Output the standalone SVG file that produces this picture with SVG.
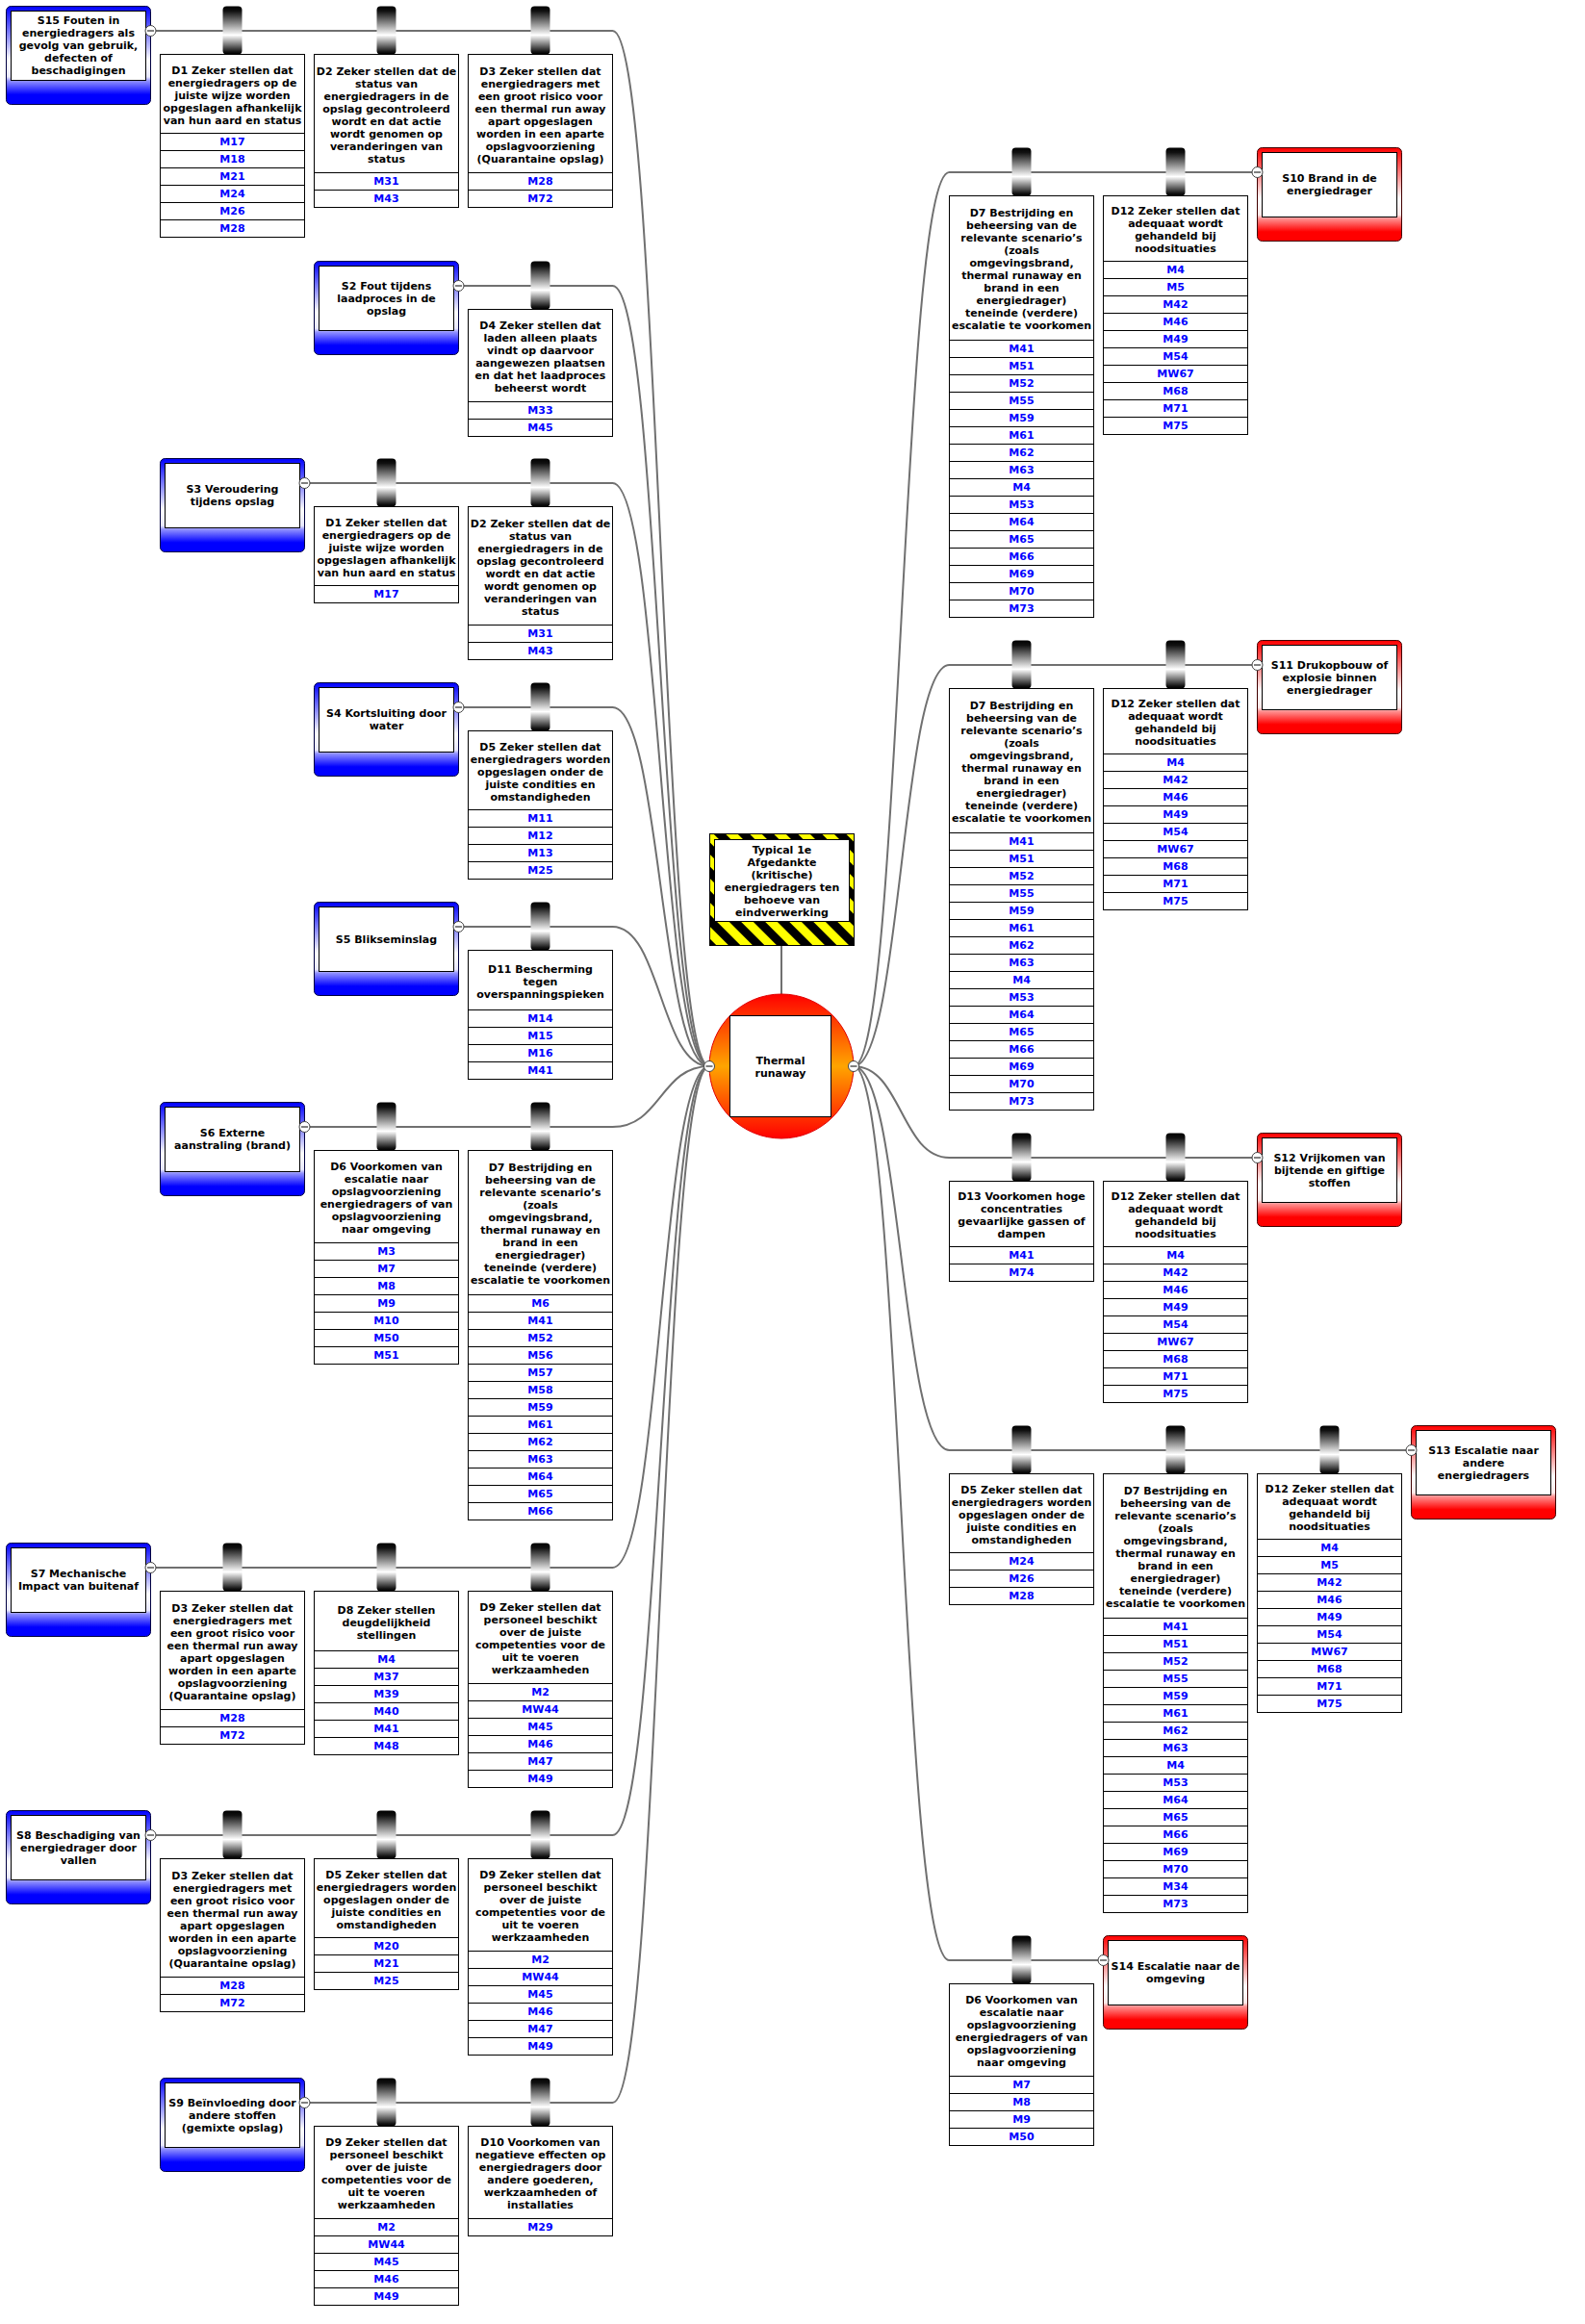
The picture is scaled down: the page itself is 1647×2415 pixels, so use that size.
<svg xmlns="http://www.w3.org/2000/svg" width="1647" height="2415" viewBox="0 0 1647 2415">
<style>
.t{font-family:"DejaVu Sans",Verdana,sans-serif;font-size:11px;font-weight:bold;fill:#000;text-anchor:middle}
.m{font-family:"DejaVu Sans",Verdana,sans-serif;font-size:11px;font-weight:bold;fill:#0000ff;text-anchor:middle}
.box{fill:#fff;stroke:#000;stroke-width:1}
.sep{fill:none;stroke:#000;stroke-width:1}
.sb{fill:url(#gB);stroke:#000040;stroke-width:1}
.sr{fill:url(#gR);stroke:#400000;stroke-width:1}
.in{fill:#fff;stroke:#000;stroke-width:1}
.con{fill:none;stroke:#707070;stroke-width:2}
</style>
<defs>
<linearGradient id="gB" x1="0" y1="0" x2="0" y2="1">
<stop offset="0" stop-color="#0000ff"/><stop offset="0.55" stop-color="#ffffff"/><stop offset="0.72" stop-color="#e8e8ff"/><stop offset="0.76" stop-color="#9090ff"/><stop offset="0.9" stop-color="#0000ff"/><stop offset="1" stop-color="#0000ff"/>
</linearGradient>
<linearGradient id="gR" x1="0" y1="0" x2="0" y2="1">
<stop offset="0" stop-color="#ff0000"/><stop offset="0.55" stop-color="#ffffff"/><stop offset="0.72" stop-color="#ffe8e8"/><stop offset="0.76" stop-color="#ff9090"/><stop offset="0.9" stop-color="#ff0000"/><stop offset="1" stop-color="#ff0000"/>
</linearGradient>
<linearGradient id="gC" x1="0" y1="0" x2="0" y2="1">
<stop offset="0" stop-color="#000"/><stop offset="0.1" stop-color="#111"/><stop offset="0.6" stop-color="#fff"/><stop offset="0.95" stop-color="#111"/><stop offset="1" stop-color="#000"/>
</linearGradient>
<linearGradient id="gF" x1="0" y1="0" x2="0" y2="1">
<stop offset="0" stop-color="#ff0000"/><stop offset="0.5" stop-color="#ffa500"/><stop offset="1" stop-color="#ff0000"/>
</linearGradient>
<pattern id="hz" patternUnits="userSpaceOnUse" width="17.7" height="17.7" patternTransform="rotate(-45)">
<rect width="17.7" height="17.7" fill="#ffff00"/><rect width="8.85" height="17.7" fill="#000"/>
</pattern>
<rect id="clip" x="-10" y="0" width="20" height="50" rx="4" fill="url(#gC)"/>
<g id="knob"><circle r="5.5" fill="#fff" stroke="#444" stroke-width="1"/><path d="M-3.5 0H3.5" stroke="#000" stroke-width="1"/></g>
</defs>
<rect width="1647" height="2415" fill="#fff"/>

<g id="connectors">
<path class="con" d="M156.5 32H636.5C686.5 32 686.5 1108 737 1108"/>
<path class="con" d="M476.5 297H636.5C686.5 297 686.5 1108 737 1108"/>
<path class="con" d="M316.5 502H636.5C686.5 502 686.5 1108 737 1108"/>
<path class="con" d="M476.5 735H636.5C686.5 735 686.5 1108 737 1108"/>
<path class="con" d="M476.5 963H636.5C686.5 963 686.5 1108 737 1108"/>
<path class="con" d="M316.5 1171H636.5C686.5 1171 686.5 1108 737 1108"/>
<path class="con" d="M156.5 1629H636.5C686.5 1629 686.5 1108 737 1108"/>
<path class="con" d="M156.5 1907H636.5C686.5 1907 686.5 1108 737 1108"/>
<path class="con" d="M316.5 2185H636.5C686.5 2185 686.5 1108 737 1108"/>
<path class="con" d="M1306.5 179H986.5C936.5 179 936.5 1108 887 1108"/>
<path class="con" d="M1306.5 691H986.5C936.5 691 936.5 1108 887 1108"/>
<path class="con" d="M1306.5 1203H986.5C936.5 1203 936.5 1108 887 1108"/>
<path class="con" d="M1466.5 1507H986.5C936.5 1507 936.5 1108 887 1108"/>
<path class="con" d="M1146.5 2037H986.5C936.5 2037 936.5 1108 887 1108"/>
<path class="con" d="M812 982V1033"/>
</g>

<g id="hazard">
<rect x="737.5" y="866.5" width="150" height="116" fill="url(#hz)" stroke="#000"/>
<rect class="in" x="742.5" y="872.5" width="140" height="85"/>
<text class="t" x="812.5" y="886.5">Typical 1e</text>
<text class="t" x="812.5" y="899.5">Afgedankte</text>
<text class="t" x="812.5" y="912.5">(kritische)</text>
<text class="t" x="812.5" y="925.5">energiedragers ten</text>
<text class="t" x="812.5" y="938.5">behoeve van</text>
<text class="t" x="812.5" y="951.5">eindverwerking</text>
</g>

<g id="top-event">
<circle cx="812" cy="1108" r="75" fill="url(#gF)" stroke="#e00000"/>
<rect class="in" x="758.5" y="1055.5" width="105" height="105"/>
<text class="t" x="811" y="1105.5">Thermal</text>
<text class="t" x="811" y="1118.5">runaway</text>
<use href="#knob" x="737" y="1108"/>
<use href="#knob" x="887" y="1108"/>
</g>

<!-- LEFT: S15 row -->
<g id="s15" transform="translate(6.5,6.5)">
<rect class="sb" width="150" height="102" rx="5"/>
<rect class="in" x="5" y="5" width="140" height="72"/>
<text class="t" x="75" y="18.5">S15 Fouten in</text>
<text class="t" x="75" y="31.5">energiedragers als</text>
<text class="t" x="75" y="44.5">gevolg van gebruik,</text>
<text class="t" x="75" y="57.5">defecten of</text>
<text class="t" x="75" y="70.5">beschadigingen</text>
<use href="#knob" x="150" y="25.5"/>
</g>
<g id="s15-d1" transform="translate(166.5,56.5)">
<use href="#clip" x="75" y="-50"/>
<rect class="box" width="150" height="190"/>
<path class="sep" d="M0 82H150M0 100H150M0 118H150M0 136H150M0 154H150M0 172H150"/>
<text class="t" x="75" y="20">D1 Zeker stellen dat</text>
<text class="t" x="75" y="33">energiedragers op de</text>
<text class="t" x="75" y="46">juiste wijze worden</text>
<text class="t" x="75" y="59">opgeslagen afhankelijk</text>
<text class="t" x="75" y="72">van hun aard en status</text>
<text class="m" x="75" y="94">M17</text>
<text class="m" x="75" y="112">M18</text>
<text class="m" x="75" y="130">M21</text>
<text class="m" x="75" y="148">M24</text>
<text class="m" x="75" y="166">M26</text>
<text class="m" x="75" y="184">M28</text>
</g>
<g id="s15-d2" transform="translate(326.5,56.5)">
<use href="#clip" x="75" y="-50"/>
<rect class="box" width="150" height="159"/>
<path class="sep" d="M0 123H150M0 141H150"/>
<text class="t" x="75" y="21">D2 Zeker stellen dat de</text>
<text class="t" x="75" y="34">status van</text>
<text class="t" x="75" y="47">energiedragers in de</text>
<text class="t" x="75" y="60">opslag gecontroleerd</text>
<text class="t" x="75" y="73">wordt en dat actie</text>
<text class="t" x="75" y="86">wordt genomen op</text>
<text class="t" x="75" y="99">veranderingen van</text>
<text class="t" x="75" y="112">status</text>
<text class="m" x="75" y="135">M31</text>
<text class="m" x="75" y="153">M43</text>
</g>
<g id="s15-d3" transform="translate(486.5,56.5)">
<use href="#clip" x="75" y="-50"/>
<rect class="box" width="150" height="159"/>
<path class="sep" d="M0 123H150M0 141H150"/>
<text class="t" x="75" y="21">D3 Zeker stellen dat</text>
<text class="t" x="75" y="34">energiedragers met</text>
<text class="t" x="75" y="47">een groot risico voor</text>
<text class="t" x="75" y="60">een thermal run away</text>
<text class="t" x="75" y="73">apart opgeslagen</text>
<text class="t" x="75" y="86">worden in een aparte</text>
<text class="t" x="75" y="99">opslagvoorziening</text>
<text class="t" x="75" y="112">(Quarantaine opslag)</text>
<text class="m" x="75" y="135">M28</text>
<text class="m" x="75" y="153">M72</text>
</g>

<!-- S2 row -->
<g id="s2" transform="translate(326.5,271.5)">
<rect class="sb" width="150" height="97" rx="5"/>
<rect class="in" x="5" y="5" width="140" height="67"/>
<text class="t" x="75" y="29">S2 Fout tijdens</text>
<text class="t" x="75" y="42">laadproces in de</text>
<text class="t" x="75" y="55">opslag</text>
<use href="#knob" x="150" y="25.5"/>
</g>
<g id="s2-d4" transform="translate(486.5,321.5)">
<use href="#clip" x="75" y="-50"/>
<rect class="box" width="150" height="132"/>
<path class="sep" d="M0 96H150M0 114H150"/>
<text class="t" x="75" y="20.5">D4 Zeker stellen dat</text>
<text class="t" x="75" y="33.5">laden alleen plaats</text>
<text class="t" x="75" y="46.5">vindt op daarvoor</text>
<text class="t" x="75" y="59.5">aangewezen plaatsen</text>
<text class="t" x="75" y="72.5">en dat het laadproces</text>
<text class="t" x="75" y="85.5">beheerst wordt</text>
<text class="m" x="75" y="108">M33</text>
<text class="m" x="75" y="126">M45</text>
</g>

<!-- S3 row -->
<g id="s3" transform="translate(166.5,476.5)">
<rect class="sb" width="150" height="97" rx="5"/>
<rect class="in" x="5" y="5" width="140" height="67"/>
<text class="t" x="75" y="35.5">S3 Veroudering</text>
<text class="t" x="75" y="48.5">tijdens opslag</text>
<use href="#knob" x="150" y="25.5"/>
</g>
<g id="s3-d1" transform="translate(326.5,526.5)">
<use href="#clip" x="75" y="-50"/>
<rect class="box" width="150" height="100"/>
<path class="sep" d="M0 82H150"/>
<text class="t" x="75" y="20">D1 Zeker stellen dat</text>
<text class="t" x="75" y="33">energiedragers op de</text>
<text class="t" x="75" y="46">juiste wijze worden</text>
<text class="t" x="75" y="59">opgeslagen afhankelijk</text>
<text class="t" x="75" y="72">van hun aard en status</text>
<text class="m" x="75" y="94">M17</text>
</g>
<g id="s3-d2" transform="translate(486.5,526.5)">
<use href="#clip" x="75" y="-50"/>
<rect class="box" width="150" height="159"/>
<path class="sep" d="M0 123H150M0 141H150"/>
<text class="t" x="75" y="21">D2 Zeker stellen dat de</text>
<text class="t" x="75" y="34">status van</text>
<text class="t" x="75" y="47">energiedragers in de</text>
<text class="t" x="75" y="60">opslag gecontroleerd</text>
<text class="t" x="75" y="73">wordt en dat actie</text>
<text class="t" x="75" y="86">wordt genomen op</text>
<text class="t" x="75" y="99">veranderingen van</text>
<text class="t" x="75" y="112">status</text>
<text class="m" x="75" y="135">M31</text>
<text class="m" x="75" y="153">M43</text>
</g>

<!-- S4 row -->
<g id="s4" transform="translate(326.5,709.5)">
<rect class="sb" width="150" height="97" rx="5"/>
<rect class="in" x="5" y="5" width="140" height="67"/>
<text class="t" x="75" y="35.5">S4 Kortsluiting door</text>
<text class="t" x="75" y="48.5">water</text>
<use href="#knob" x="150" y="25.5"/>
</g>
<g id="s4-d5" transform="translate(486.5,759.5)">
<use href="#clip" x="75" y="-50"/>
<rect class="box" width="150" height="154"/>
<path class="sep" d="M0 82H150M0 100H150M0 118H150M0 136H150"/>
<text class="t" x="75" y="20">D5 Zeker stellen dat</text>
<text class="t" x="75" y="33">energiedragers worden</text>
<text class="t" x="75" y="46">opgeslagen onder de</text>
<text class="t" x="75" y="59">juiste condities en</text>
<text class="t" x="75" y="72">omstandigheden</text>
<text class="m" x="75" y="94">M11</text>
<text class="m" x="75" y="112">M12</text>
<text class="m" x="75" y="130">M13</text>
<text class="m" x="75" y="148">M25</text>
</g>

<!-- S5 row -->
<g id="s5" transform="translate(326.5,937.5)">
<rect class="sb" width="150" height="97" rx="5"/>
<rect class="in" x="5" y="5" width="140" height="67"/>
<text class="t" x="75" y="42">S5 Blikseminslag</text>
<use href="#knob" x="150" y="25.5"/>
</g>
<g id="s5-d11" transform="translate(486.5,987.5)">
<use href="#clip" x="75" y="-50"/>
<rect class="box" width="150" height="134"/>
<path class="sep" d="M0 62H150M0 80H150M0 98H150M0 116H150"/>
<text class="t" x="75" y="23">D11 Bescherming</text>
<text class="t" x="75" y="36">tegen</text>
<text class="t" x="75" y="49">overspanningspieken</text>
<text class="m" x="75" y="74">M14</text>
<text class="m" x="75" y="92">M15</text>
<text class="m" x="75" y="110">M16</text>
<text class="m" x="75" y="128">M41</text>
</g>

<!-- S6 row -->
<g id="s6" transform="translate(166.5,1145.5)">
<rect class="sb" width="150" height="97" rx="5"/>
<rect class="in" x="5" y="5" width="140" height="67"/>
<text class="t" x="75" y="35.5">S6 Externe</text>
<text class="t" x="75" y="48.5">aanstraling (brand)</text>
<use href="#knob" x="150" y="25.5"/>
</g>
<g id="s6-d6" transform="translate(326.5,1195.5)">
<use href="#clip" x="75" y="-50"/>
<rect class="box" width="150" height="222"/>
<path class="sep" d="M0 96H150M0 114H150M0 132H150M0 150H150M0 168H150M0 186H150M0 204H150"/>
<text class="t" x="75" y="20.5">D6 Voorkomen van</text>
<text class="t" x="75" y="33.5">escalatie naar</text>
<text class="t" x="75" y="46.5">opslagvoorziening</text>
<text class="t" x="75" y="59.5">energiedragers of van</text>
<text class="t" x="75" y="72.5">opslagvoorziening</text>
<text class="t" x="75" y="85.5">naar omgeving</text>
<text class="m" x="75" y="108">M3</text>
<text class="m" x="75" y="126">M7</text>
<text class="m" x="75" y="144">M8</text>
<text class="m" x="75" y="162">M9</text>
<text class="m" x="75" y="180">M10</text>
<text class="m" x="75" y="198">M50</text>
<text class="m" x="75" y="216">M51</text>
</g>
<g id="s6-d7" transform="translate(486.5,1195.5)">
<use href="#clip" x="75" y="-50"/>
<rect class="box" width="150" height="384"/>
<path class="sep" d="M0 150H150M0 168H150M0 186H150M0 204H150M0 222H150M0 240H150M0 258H150M0 276H150M0 294H150M0 312H150M0 330H150M0 348H150M0 366H150"/>
<text class="t" x="75" y="21.5">D7 Bestrijding en</text>
<text class="t" x="75" y="34.5">beheersing van de</text>
<text class="t" x="75" y="47.5">relevante scenario’s</text>
<text class="t" x="75" y="60.5">(zoals</text>
<text class="t" x="75" y="73.5">omgevingsbrand,</text>
<text class="t" x="75" y="86.5">thermal runaway en</text>
<text class="t" x="75" y="99.5">brand in een</text>
<text class="t" x="75" y="112.5">energiedrager)</text>
<text class="t" x="75" y="125.5">teneinde (verdere)</text>
<text class="t" x="75" y="138.5">escalatie te voorkomen</text>
<text class="m" x="75" y="162">M6</text>
<text class="m" x="75" y="180">M41</text>
<text class="m" x="75" y="198">M52</text>
<text class="m" x="75" y="216">M56</text>
<text class="m" x="75" y="234">M57</text>
<text class="m" x="75" y="252">M58</text>
<text class="m" x="75" y="270">M59</text>
<text class="m" x="75" y="288">M61</text>
<text class="m" x="75" y="306">M62</text>
<text class="m" x="75" y="324">M63</text>
<text class="m" x="75" y="342">M64</text>
<text class="m" x="75" y="360">M65</text>
<text class="m" x="75" y="378">M66</text>
</g>

<!-- S7 row -->
<g id="s7" transform="translate(6.5,1603.5)">
<rect class="sb" width="150" height="97" rx="5"/>
<rect class="in" x="5" y="5" width="140" height="67"/>
<text class="t" x="75" y="35.5">S7 Mechanische</text>
<text class="t" x="75" y="48.5">Impact van buitenaf</text>
<use href="#knob" x="150" y="25.5"/>
</g>
<g id="s7-d3" transform="translate(166.5,1653.5)">
<use href="#clip" x="75" y="-50"/>
<rect class="box" width="150" height="159"/>
<path class="sep" d="M0 123H150M0 141H150"/>
<text class="t" x="75" y="21">D3 Zeker stellen dat</text>
<text class="t" x="75" y="34">energiedragers met</text>
<text class="t" x="75" y="47">een groot risico voor</text>
<text class="t" x="75" y="60">een thermal run away</text>
<text class="t" x="75" y="73">apart opgeslagen</text>
<text class="t" x="75" y="86">worden in een aparte</text>
<text class="t" x="75" y="99">opslagvoorziening</text>
<text class="t" x="75" y="112">(Quarantaine opslag)</text>
<text class="m" x="75" y="135">M28</text>
<text class="m" x="75" y="153">M72</text>
</g>
<g id="s7-d8" transform="translate(326.5,1653.5)">
<use href="#clip" x="75" y="-50"/>
<rect class="box" width="150" height="170"/>
<path class="sep" d="M0 62H150M0 80H150M0 98H150M0 116H150M0 134H150M0 152H150"/>
<text class="t" x="75" y="23">D8 Zeker stellen</text>
<text class="t" x="75" y="36">deugdelijkheid</text>
<text class="t" x="75" y="49">stellingen</text>
<text class="m" x="75" y="74">M4</text>
<text class="m" x="75" y="92">M37</text>
<text class="m" x="75" y="110">M39</text>
<text class="m" x="75" y="128">M40</text>
<text class="m" x="75" y="146">M41</text>
<text class="m" x="75" y="164">M48</text>
</g>
<g id="s7-d9" transform="translate(486.5,1653.5)">
<use href="#clip" x="75" y="-50"/>
<rect class="box" width="150" height="204"/>
<path class="sep" d="M0 96H150M0 114H150M0 132H150M0 150H150M0 168H150M0 186H150"/>
<text class="t" x="75" y="20.5">D9 Zeker stellen dat</text>
<text class="t" x="75" y="33.5">personeel beschikt</text>
<text class="t" x="75" y="46.5">over de juiste</text>
<text class="t" x="75" y="59.5">competenties voor de</text>
<text class="t" x="75" y="72.5">uit te voeren</text>
<text class="t" x="75" y="85.5">werkzaamheden</text>
<text class="m" x="75" y="108">M2</text>
<text class="m" x="75" y="126">MW44</text>
<text class="m" x="75" y="144">M45</text>
<text class="m" x="75" y="162">M46</text>
<text class="m" x="75" y="180">M47</text>
<text class="m" x="75" y="198">M49</text>
</g>

<!-- S8 row -->
<g id="s8" transform="translate(6.5,1881.5)">
<rect class="sb" width="150" height="97" rx="5"/>
<rect class="in" x="5" y="5" width="140" height="67"/>
<text class="t" x="75" y="29">S8 Beschadiging van</text>
<text class="t" x="75" y="42">energiedrager door</text>
<text class="t" x="75" y="55">vallen</text>
<use href="#knob" x="150" y="25.5"/>
</g>
<g id="s8-d3" transform="translate(166.5,1931.5)">
<use href="#clip" x="75" y="-50"/>
<rect class="box" width="150" height="159"/>
<path class="sep" d="M0 123H150M0 141H150"/>
<text class="t" x="75" y="21">D3 Zeker stellen dat</text>
<text class="t" x="75" y="34">energiedragers met</text>
<text class="t" x="75" y="47">een groot risico voor</text>
<text class="t" x="75" y="60">een thermal run away</text>
<text class="t" x="75" y="73">apart opgeslagen</text>
<text class="t" x="75" y="86">worden in een aparte</text>
<text class="t" x="75" y="99">opslagvoorziening</text>
<text class="t" x="75" y="112">(Quarantaine opslag)</text>
<text class="m" x="75" y="135">M28</text>
<text class="m" x="75" y="153">M72</text>
</g>
<g id="s8-d5" transform="translate(326.5,1931.5)">
<use href="#clip" x="75" y="-50"/>
<rect class="box" width="150" height="136"/>
<path class="sep" d="M0 82H150M0 100H150M0 118H150"/>
<text class="t" x="75" y="20">D5 Zeker stellen dat</text>
<text class="t" x="75" y="33">energiedragers worden</text>
<text class="t" x="75" y="46">opgeslagen onder de</text>
<text class="t" x="75" y="59">juiste condities en</text>
<text class="t" x="75" y="72">omstandigheden</text>
<text class="m" x="75" y="94">M20</text>
<text class="m" x="75" y="112">M21</text>
<text class="m" x="75" y="130">M25</text>
</g>
<g id="s8-d9" transform="translate(486.5,1931.5)">
<use href="#clip" x="75" y="-50"/>
<rect class="box" width="150" height="204"/>
<path class="sep" d="M0 96H150M0 114H150M0 132H150M0 150H150M0 168H150M0 186H150"/>
<text class="t" x="75" y="20.5">D9 Zeker stellen dat</text>
<text class="t" x="75" y="33.5">personeel beschikt</text>
<text class="t" x="75" y="46.5">over de juiste</text>
<text class="t" x="75" y="59.5">competenties voor de</text>
<text class="t" x="75" y="72.5">uit te voeren</text>
<text class="t" x="75" y="85.5">werkzaamheden</text>
<text class="m" x="75" y="108">M2</text>
<text class="m" x="75" y="126">MW44</text>
<text class="m" x="75" y="144">M45</text>
<text class="m" x="75" y="162">M46</text>
<text class="m" x="75" y="180">M47</text>
<text class="m" x="75" y="198">M49</text>
</g>

<!-- S9 row -->
<g id="s9" transform="translate(166.5,2159.5)">
<rect class="sb" width="150" height="97" rx="5"/>
<rect class="in" x="5" y="5" width="140" height="67"/>
<text class="t" x="75" y="29">S9 Beïnvloeding door</text>
<text class="t" x="75" y="42">andere stoffen</text>
<text class="t" x="75" y="55">(gemixte opslag)</text>
<use href="#knob" x="150" y="25.5"/>
</g>
<g id="s9-d9" transform="translate(326.5,2209.5)">
<use href="#clip" x="75" y="-50"/>
<rect class="box" width="150" height="186"/>
<path class="sep" d="M0 96H150M0 114H150M0 132H150M0 150H150M0 168H150"/>
<text class="t" x="75" y="20.5">D9 Zeker stellen dat</text>
<text class="t" x="75" y="33.5">personeel beschikt</text>
<text class="t" x="75" y="46.5">over de juiste</text>
<text class="t" x="75" y="59.5">competenties voor de</text>
<text class="t" x="75" y="72.5">uit te voeren</text>
<text class="t" x="75" y="85.5">werkzaamheden</text>
<text class="m" x="75" y="108">M2</text>
<text class="m" x="75" y="126">MW44</text>
<text class="m" x="75" y="144">M45</text>
<text class="m" x="75" y="162">M46</text>
<text class="m" x="75" y="180">M49</text>
</g>
<g id="s9-d10" transform="translate(486.5,2209.5)">
<use href="#clip" x="75" y="-50"/>
<rect class="box" width="150" height="114"/>
<path class="sep" d="M0 96H150"/>
<text class="t" x="75" y="20.5">D10 Voorkomen van</text>
<text class="t" x="75" y="33.5">negatieve effecten op</text>
<text class="t" x="75" y="46.5">energiedragers door</text>
<text class="t" x="75" y="59.5">andere goederen,</text>
<text class="t" x="75" y="72.5">werkzaamheden of</text>
<text class="t" x="75" y="85.5">installaties</text>
<text class="m" x="75" y="108">M29</text>
</g>

<!-- RIGHT: S10 row -->
<g id="s10" transform="translate(1306.5,153.5)">
<rect class="sr" width="150" height="97" rx="5"/>
<rect class="in" x="5" y="5" width="140" height="67"/>
<text class="t" x="75" y="35.5">S10 Brand in de</text>
<text class="t" x="75" y="48.5">energiedrager</text>
<use href="#knob" x="0" y="25.5"/>
</g>
<g id="s10-d7" transform="translate(986.5,203.5)">
<use href="#clip" x="75" y="-50"/>
<rect class="box" width="150" height="438"/>
<path class="sep" d="M0 150H150M0 168H150M0 186H150M0 204H150M0 222H150M0 240H150M0 258H150M0 276H150M0 294H150M0 312H150M0 330H150M0 348H150M0 366H150M0 384H150M0 402H150M0 420H150"/>
<text class="t" x="75" y="21.5">D7 Bestrijding en</text>
<text class="t" x="75" y="34.5">beheersing van de</text>
<text class="t" x="75" y="47.5">relevante scenario’s</text>
<text class="t" x="75" y="60.5">(zoals</text>
<text class="t" x="75" y="73.5">omgevingsbrand,</text>
<text class="t" x="75" y="86.5">thermal runaway en</text>
<text class="t" x="75" y="99.5">brand in een</text>
<text class="t" x="75" y="112.5">energiedrager)</text>
<text class="t" x="75" y="125.5">teneinde (verdere)</text>
<text class="t" x="75" y="138.5">escalatie te voorkomen</text>
<text class="m" x="75" y="162">M41</text>
<text class="m" x="75" y="180">M51</text>
<text class="m" x="75" y="198">M52</text>
<text class="m" x="75" y="216">M55</text>
<text class="m" x="75" y="234">M59</text>
<text class="m" x="75" y="252">M61</text>
<text class="m" x="75" y="270">M62</text>
<text class="m" x="75" y="288">M63</text>
<text class="m" x="75" y="306">M4</text>
<text class="m" x="75" y="324">M53</text>
<text class="m" x="75" y="342">M64</text>
<text class="m" x="75" y="360">M65</text>
<text class="m" x="75" y="378">M66</text>
<text class="m" x="75" y="396">M69</text>
<text class="m" x="75" y="414">M70</text>
<text class="m" x="75" y="432">M73</text>
</g>
<g id="s10-d12" transform="translate(1146.5,203.5)">
<use href="#clip" x="75" y="-50"/>
<rect class="box" width="150" height="248"/>
<path class="sep" d="M0 68H150M0 86H150M0 104H150M0 122H150M0 140H150M0 158H150M0 176H150M0 194H150M0 212H150M0 230H150"/>
<text class="t" x="75" y="19.5">D12 Zeker stellen dat</text>
<text class="t" x="75" y="32.5">adequaat wordt</text>
<text class="t" x="75" y="45.5">gehandeld bij</text>
<text class="t" x="75" y="58.5">noodsituaties</text>
<text class="m" x="75" y="80">M4</text>
<text class="m" x="75" y="98">M5</text>
<text class="m" x="75" y="116">M42</text>
<text class="m" x="75" y="134">M46</text>
<text class="m" x="75" y="152">M49</text>
<text class="m" x="75" y="170">M54</text>
<text class="m" x="75" y="188">MW67</text>
<text class="m" x="75" y="206">M68</text>
<text class="m" x="75" y="224">M71</text>
<text class="m" x="75" y="242">M75</text>
</g>

<!-- S11 row -->
<g id="s11" transform="translate(1306.5,665.5)">
<rect class="sr" width="150" height="97" rx="5"/>
<rect class="in" x="5" y="5" width="140" height="67"/>
<text class="t" x="75" y="29">S11 Drukopbouw of</text>
<text class="t" x="75" y="42">explosie binnen</text>
<text class="t" x="75" y="55">energiedrager</text>
<use href="#knob" x="0" y="25.5"/>
</g>
<g id="s11-d7" transform="translate(986.5,715.5)">
<use href="#clip" x="75" y="-50"/>
<rect class="box" width="150" height="438"/>
<path class="sep" d="M0 150H150M0 168H150M0 186H150M0 204H150M0 222H150M0 240H150M0 258H150M0 276H150M0 294H150M0 312H150M0 330H150M0 348H150M0 366H150M0 384H150M0 402H150M0 420H150"/>
<text class="t" x="75" y="21.5">D7 Bestrijding en</text>
<text class="t" x="75" y="34.5">beheersing van de</text>
<text class="t" x="75" y="47.5">relevante scenario’s</text>
<text class="t" x="75" y="60.5">(zoals</text>
<text class="t" x="75" y="73.5">omgevingsbrand,</text>
<text class="t" x="75" y="86.5">thermal runaway en</text>
<text class="t" x="75" y="99.5">brand in een</text>
<text class="t" x="75" y="112.5">energiedrager)</text>
<text class="t" x="75" y="125.5">teneinde (verdere)</text>
<text class="t" x="75" y="138.5">escalatie te voorkomen</text>
<text class="m" x="75" y="162">M41</text>
<text class="m" x="75" y="180">M51</text>
<text class="m" x="75" y="198">M52</text>
<text class="m" x="75" y="216">M55</text>
<text class="m" x="75" y="234">M59</text>
<text class="m" x="75" y="252">M61</text>
<text class="m" x="75" y="270">M62</text>
<text class="m" x="75" y="288">M63</text>
<text class="m" x="75" y="306">M4</text>
<text class="m" x="75" y="324">M53</text>
<text class="m" x="75" y="342">M64</text>
<text class="m" x="75" y="360">M65</text>
<text class="m" x="75" y="378">M66</text>
<text class="m" x="75" y="396">M69</text>
<text class="m" x="75" y="414">M70</text>
<text class="m" x="75" y="432">M73</text>
</g>
<g id="s11-d12" transform="translate(1146.5,715.5)">
<use href="#clip" x="75" y="-50"/>
<rect class="box" width="150" height="230"/>
<path class="sep" d="M0 68H150M0 86H150M0 104H150M0 122H150M0 140H150M0 158H150M0 176H150M0 194H150M0 212H150"/>
<text class="t" x="75" y="19.5">D12 Zeker stellen dat</text>
<text class="t" x="75" y="32.5">adequaat wordt</text>
<text class="t" x="75" y="45.5">gehandeld bij</text>
<text class="t" x="75" y="58.5">noodsituaties</text>
<text class="m" x="75" y="80">M4</text>
<text class="m" x="75" y="98">M42</text>
<text class="m" x="75" y="116">M46</text>
<text class="m" x="75" y="134">M49</text>
<text class="m" x="75" y="152">M54</text>
<text class="m" x="75" y="170">MW67</text>
<text class="m" x="75" y="188">M68</text>
<text class="m" x="75" y="206">M71</text>
<text class="m" x="75" y="224">M75</text>
</g>

<!-- S12 row -->
<g id="s12" transform="translate(1306.5,1177.5)">
<rect class="sr" width="150" height="97" rx="5"/>
<rect class="in" x="5" y="5" width="140" height="67"/>
<text class="t" x="75" y="29">S12 Vrijkomen van</text>
<text class="t" x="75" y="42">bijtende en giftige</text>
<text class="t" x="75" y="55">stoffen</text>
<use href="#knob" x="0" y="25.5"/>
</g>
<g id="s12-d13" transform="translate(986.5,1227.5)">
<use href="#clip" x="75" y="-50"/>
<rect class="box" width="150" height="104"/>
<path class="sep" d="M0 68H150M0 86H150"/>
<text class="t" x="75" y="19.5">D13 Voorkomen hoge</text>
<text class="t" x="75" y="32.5">concentraties</text>
<text class="t" x="75" y="45.5">gevaarlijke gassen of</text>
<text class="t" x="75" y="58.5">dampen</text>
<text class="m" x="75" y="80">M41</text>
<text class="m" x="75" y="98">M74</text>
</g>
<g id="s12-d12" transform="translate(1146.5,1227.5)">
<use href="#clip" x="75" y="-50"/>
<rect class="box" width="150" height="230"/>
<path class="sep" d="M0 68H150M0 86H150M0 104H150M0 122H150M0 140H150M0 158H150M0 176H150M0 194H150M0 212H150"/>
<text class="t" x="75" y="19.5">D12 Zeker stellen dat</text>
<text class="t" x="75" y="32.5">adequaat wordt</text>
<text class="t" x="75" y="45.5">gehandeld bij</text>
<text class="t" x="75" y="58.5">noodsituaties</text>
<text class="m" x="75" y="80">M4</text>
<text class="m" x="75" y="98">M42</text>
<text class="m" x="75" y="116">M46</text>
<text class="m" x="75" y="134">M49</text>
<text class="m" x="75" y="152">M54</text>
<text class="m" x="75" y="170">MW67</text>
<text class="m" x="75" y="188">M68</text>
<text class="m" x="75" y="206">M71</text>
<text class="m" x="75" y="224">M75</text>
</g>

<!-- S13 row -->
<g id="s13" transform="translate(1466.5,1481.5)">
<rect class="sr" width="150" height="97" rx="5"/>
<rect class="in" x="5" y="5" width="140" height="67"/>
<text class="t" x="75" y="29">S13 Escalatie naar</text>
<text class="t" x="75" y="42">andere</text>
<text class="t" x="75" y="55">energiedragers</text>
<use href="#knob" x="0" y="25.5"/>
</g>
<g id="s13-d5" transform="translate(986.5,1531.5)">
<use href="#clip" x="75" y="-50"/>
<rect class="box" width="150" height="136"/>
<path class="sep" d="M0 82H150M0 100H150M0 118H150"/>
<text class="t" x="75" y="20">D5 Zeker stellen dat</text>
<text class="t" x="75" y="33">energiedragers worden</text>
<text class="t" x="75" y="46">opgeslagen onder de</text>
<text class="t" x="75" y="59">juiste condities en</text>
<text class="t" x="75" y="72">omstandigheden</text>
<text class="m" x="75" y="94">M24</text>
<text class="m" x="75" y="112">M26</text>
<text class="m" x="75" y="130">M28</text>
</g>
<g id="s13-d7" transform="translate(1146.5,1531.5)">
<use href="#clip" x="75" y="-50"/>
<rect class="box" width="150" height="456"/>
<path class="sep" d="M0 150H150M0 168H150M0 186H150M0 204H150M0 222H150M0 240H150M0 258H150M0 276H150M0 294H150M0 312H150M0 330H150M0 348H150M0 366H150M0 384H150M0 402H150M0 420H150M0 438H150"/>
<text class="t" x="75" y="21.5">D7 Bestrijding en</text>
<text class="t" x="75" y="34.5">beheersing van de</text>
<text class="t" x="75" y="47.5">relevante scenario’s</text>
<text class="t" x="75" y="60.5">(zoals</text>
<text class="t" x="75" y="73.5">omgevingsbrand,</text>
<text class="t" x="75" y="86.5">thermal runaway en</text>
<text class="t" x="75" y="99.5">brand in een</text>
<text class="t" x="75" y="112.5">energiedrager)</text>
<text class="t" x="75" y="125.5">teneinde (verdere)</text>
<text class="t" x="75" y="138.5">escalatie te voorkomen</text>
<text class="m" x="75" y="162">M41</text>
<text class="m" x="75" y="180">M51</text>
<text class="m" x="75" y="198">M52</text>
<text class="m" x="75" y="216">M55</text>
<text class="m" x="75" y="234">M59</text>
<text class="m" x="75" y="252">M61</text>
<text class="m" x="75" y="270">M62</text>
<text class="m" x="75" y="288">M63</text>
<text class="m" x="75" y="306">M4</text>
<text class="m" x="75" y="324">M53</text>
<text class="m" x="75" y="342">M64</text>
<text class="m" x="75" y="360">M65</text>
<text class="m" x="75" y="378">M66</text>
<text class="m" x="75" y="396">M69</text>
<text class="m" x="75" y="414">M70</text>
<text class="m" x="75" y="432">M34</text>
<text class="m" x="75" y="450">M73</text>
</g>
<g id="s13-d12" transform="translate(1306.5,1531.5)">
<use href="#clip" x="75" y="-50"/>
<rect class="box" width="150" height="248"/>
<path class="sep" d="M0 68H150M0 86H150M0 104H150M0 122H150M0 140H150M0 158H150M0 176H150M0 194H150M0 212H150M0 230H150"/>
<text class="t" x="75" y="19.5">D12 Zeker stellen dat</text>
<text class="t" x="75" y="32.5">adequaat wordt</text>
<text class="t" x="75" y="45.5">gehandeld bij</text>
<text class="t" x="75" y="58.5">noodsituaties</text>
<text class="m" x="75" y="80">M4</text>
<text class="m" x="75" y="98">M5</text>
<text class="m" x="75" y="116">M42</text>
<text class="m" x="75" y="134">M46</text>
<text class="m" x="75" y="152">M49</text>
<text class="m" x="75" y="170">M54</text>
<text class="m" x="75" y="188">MW67</text>
<text class="m" x="75" y="206">M68</text>
<text class="m" x="75" y="224">M71</text>
<text class="m" x="75" y="242">M75</text>
</g>

<!-- S14 row -->
<g id="s14" transform="translate(1146.5,2011.5)">
<rect class="sr" width="150" height="97" rx="5"/>
<rect class="in" x="5" y="5" width="140" height="67"/>
<text class="t" x="75" y="35.5">S14 Escalatie naar de</text>
<text class="t" x="75" y="48.5">omgeving</text>
<use href="#knob" x="0" y="25.5"/>
</g>
<g id="s14-d6" transform="translate(986.5,2061.5)">
<use href="#clip" x="75" y="-50"/>
<rect class="box" width="150" height="168"/>
<path class="sep" d="M0 96H150M0 114H150M0 132H150M0 150H150"/>
<text class="t" x="75" y="20.5">D6 Voorkomen van</text>
<text class="t" x="75" y="33.5">escalatie naar</text>
<text class="t" x="75" y="46.5">opslagvoorziening</text>
<text class="t" x="75" y="59.5">energiedragers of van</text>
<text class="t" x="75" y="72.5">opslagvoorziening</text>
<text class="t" x="75" y="85.5">naar omgeving</text>
<text class="m" x="75" y="108">M7</text>
<text class="m" x="75" y="126">M8</text>
<text class="m" x="75" y="144">M9</text>
<text class="m" x="75" y="162">M50</text>
</g>
</svg>
